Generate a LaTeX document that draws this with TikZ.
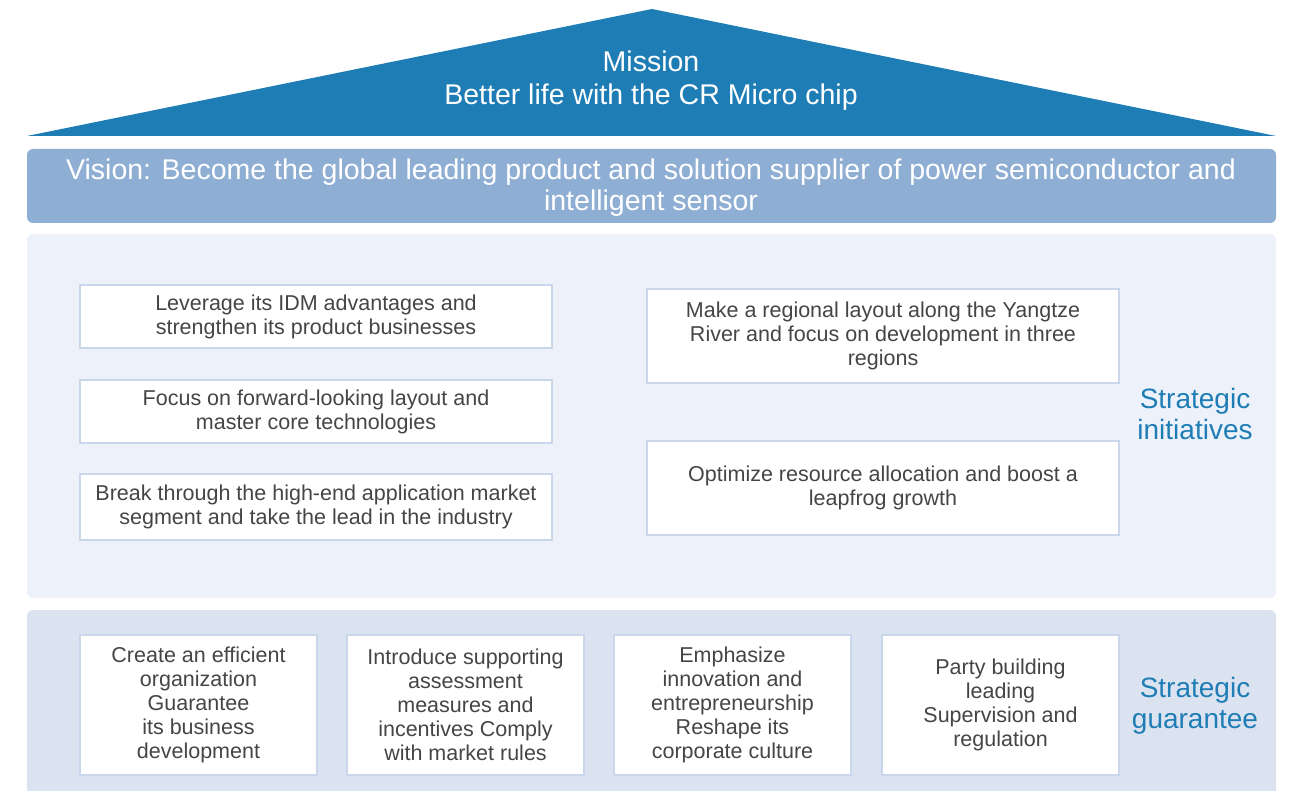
\documentclass[tikz,border=0pt]{standalone}
\usepackage{fontspec}
\setmainfont{Liberation Sans}
\definecolor{missionblue}{HTML}{1F7DB6}
\definecolor{visionblue}{HTML}{8FAED4}
\definecolor{panelpale}{HTML}{EDF2FA}
\definecolor{panelgrey}{HTML}{DCE3F0}
\definecolor{boxline}{HTML}{C9D6EC}
\definecolor{textgrey}{HTML}{454545}
\begin{document}
\begin{tikzpicture}[x=1pt,y=-1pt,
		initbox/.style={draw=boxline,line width=1.5pt,fill=white,text=textgrey,align=center,
			inner sep=0pt,font=\fontsize{21.5}{24}\selectfont},
		sidelabel/.style={text=missionblue,align=center,font=\fontsize{28}{31}\selectfont}]
	\useasboundingbox (0,0) rectangle (1290,791);
	\clip (0,0) rectangle (1290,791);
	% roof and vision
	\fill[missionblue] (27,136) -- (652,9) -- (1276,136) -- cycle;
	\node[text=white,align=center,font=\fontsize{28.5}{33}\selectfont] (mission) at (651,81) {Mission\\Better life with the CR Micro chip};
	\fill[visionblue,rounded corners=6pt] (27,149) rectangle (1276,223);
	\node[text=white,align=center,font=\fontsize{28.5}{31.5}\selectfont] (vision) at (651,187.5) {Vision: Become the global leading product and solution supplier of power semiconductor and\\intelligent sensor};
	% panels
	\fill[panelpale,rounded corners=6pt] (27,234) rectangle (1276,598);
	\fill[panelgrey,rounded corners=6pt] (27,610) rectangle (1276,820);
	% strategic initiatives
	\node[initbox,minimum width=472pt,minimum height=63pt] (lev) at (316,316.5) {Leverage its IDM advantages and\\strengthen its product businesses};
	\node[initbox,minimum width=472pt,minimum height=63pt] (foc) at (316,411.5) {Focus on forward-looking layout and\\master core technologies};
	\node[initbox,minimum width=472pt,minimum height=66pt] (brk) at (316,507) {Break through the high-end application market\\segment and take the lead in the industry};
	\node[initbox,minimum width=472pt,minimum height=94pt] (yangtze) at (883,336) {Make a regional layout along the Yangtze\\River and focus on development in three\\regions};
	\node[initbox,minimum width=472pt,minimum height=94pt] (opt) at (883,488) {Optimize resource allocation and boost a\\leapfrog growth};
	\node[sidelabel] (initiatives) at (1195,414) {Strategic\\initiatives};
	% strategic guarantee
	\node[initbox,minimum width=237pt,minimum height=140pt] (org) at (198.5,705) {Create an efficient\\organization\\Guarantee\\its business\\development};
	\node[initbox,minimum width=237pt,minimum height=140pt] (inc) at (465.5,705) {Introduce supporting\\assessment\\measures and\\incentives Comply\\with market rules};
	\node[initbox,minimum width=237pt,minimum height=140pt] (inn) at (732.5,705) {Emphasize\\innovation and\\entrepreneurship\\Reshape its\\corporate culture};
	\node[initbox,minimum width=237pt,minimum height=140pt] (party) at (1000.5,705) {Party building\\leading\\Supervision and\\regulation};
	\node[sidelabel] (guarantee) at (1195,706) {Strategic\\guarantee};
\end{tikzpicture}
\end{document}
